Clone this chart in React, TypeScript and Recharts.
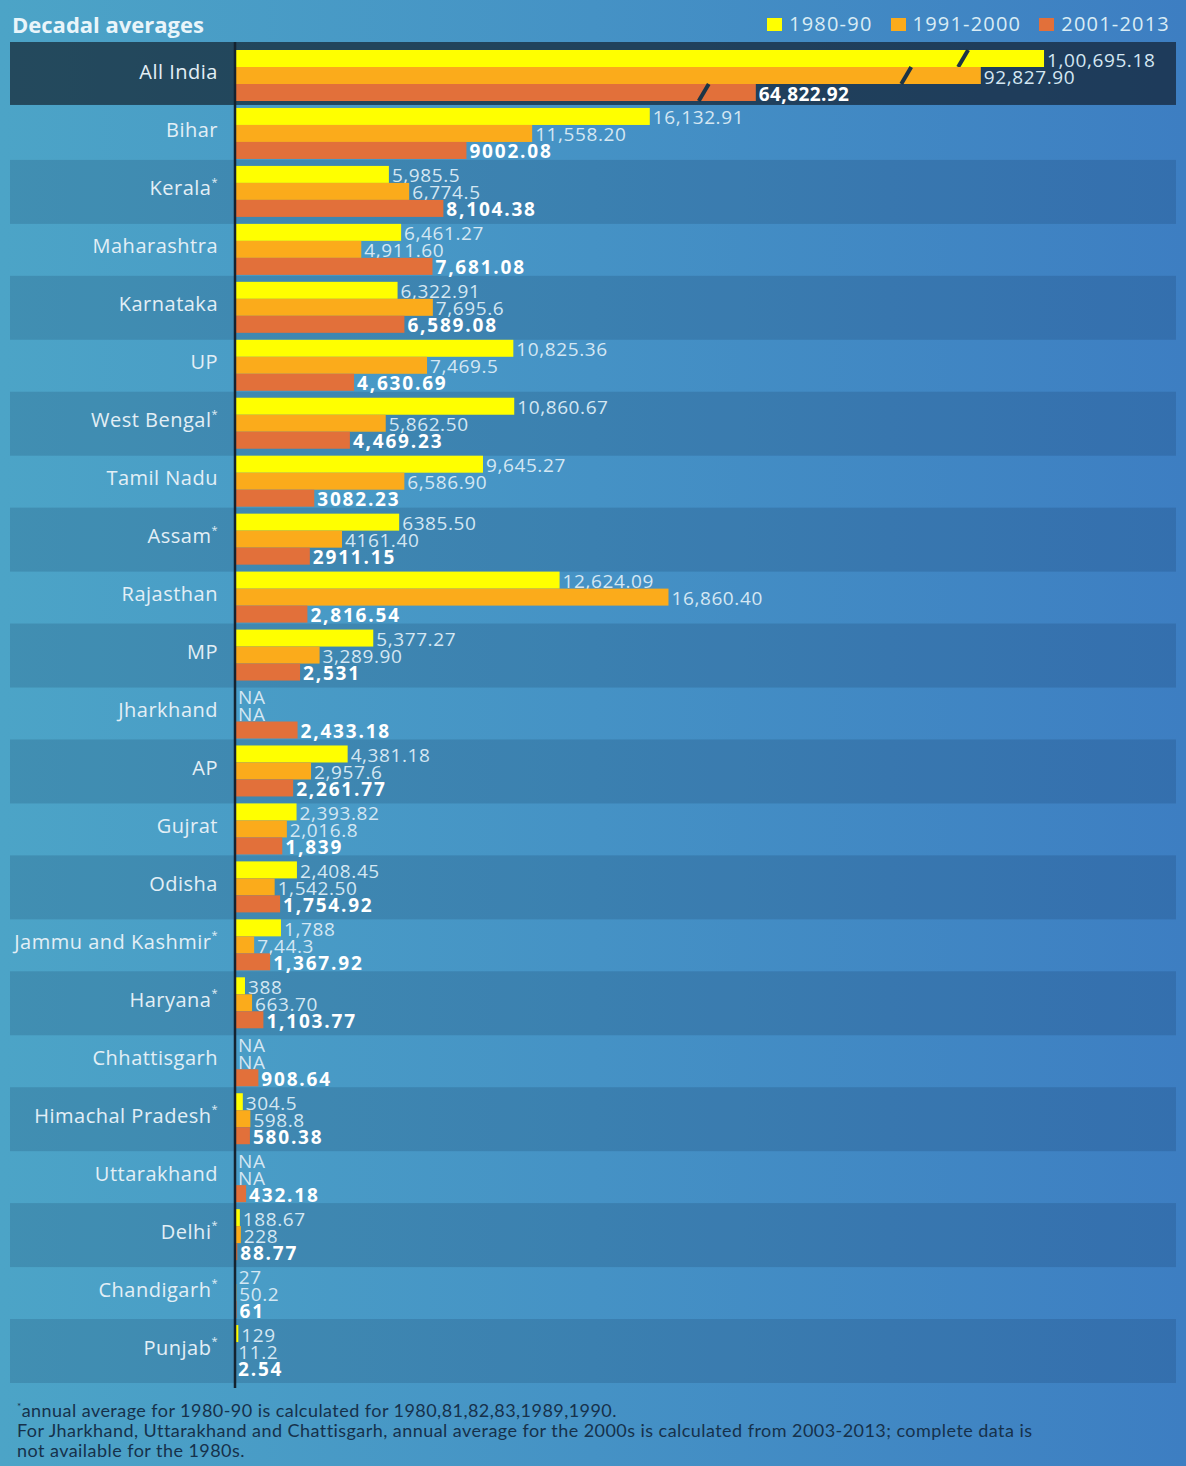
import { Bar, BarChart, ReferenceArea, XAxis, YAxis } from "recharts";

const categories = [
  "All India", "Bihar", "Kerala*", "Maharashtra", "Karnataka", "UP", "West Bengal*",
  "Tamil Nadu", "Assam*", "Rajasthan", "MP", "Jharkhand", "AP", "Gujrat", "Odisha",
  "Jammu and Kashmir*", "Haryana*", "Chhattisgarh", "Himachal Pradesh*", "Uttarakhand",
  "Delhi*", "Chandigarh*", "Punjab*",
];

const avg1980 = [
  100695.18, 16132.91, 5985.5, 6461.27, 6322.91, 10825.36, 10860.67, 9645.27, 6385.5,
  12624.09, 5377.27, null, 4381.18, 2393.82, 2408.45, 1788, 388, null, 304.5, null,
  188.67, 27, 129,
];
const avg1991 = [
  92827.9, 11558.2, 6774.5, 4911.6, 7695.6, 7469.5, 5862.5, 6586.9, 4161.4, 16860.4,
  3289.9, null, 2957.6, 2016.8, 1542.5, 744.3, 663.7, null, 598.8, null, 228, 50.2, 11.2,
];
const avg2001 = [
  64822.92, 9002.08, 8104.38, 7681.08, 6589.08, 4630.69, 4469.23, 3082.23, 2911.15,
  2816.54, 2531, 2433.18, 2261.77, 1839, 1754.92, 1367.92, 1103.77, 908.64, 580.38,
  432.18, 88.77, 61, 2.54,
];

// printed labels, kept as they appear in the original
const label1980 = [
  "1,00,695.18", "16,132.91", "5,985.5", "6,461.27", "6,322.91", "10,825.36", "10,860.67",
  "9,645.27", "6385.50", "12,624.09", "5,377.27", "NA", "4,381.18", "2,393.82", "2,408.45",
  "1,788", "388", "NA", "304.5", "NA", "188.67", "27", "129",
];
const label1991 = [
  "92,827.90", "11,558.20", "6,774.5", "4,911.60", "7,695.6", "7,469.5", "5,862.50",
  "6,586.90", "4161.40", "16,860.40", "3,289.90", "NA", "2,957.6", "2,016.8", "1,542.50",
  "7,44.3", "663.70", "NA", "598.8", "NA", "228", "50.2", "11.2",
];
const label2001 = [
  "64,822.92", "9002.08", "8,104.38", "7,681.08", "6,589.08", "4,630.69", "4,469.23",
  "3082.23", "2911.15", "2,816.54", "2,531", "2,433.18", "2,261.77", "1,839", "1,754.92",
  "1,367.92", "1,103.77", "908.64", "580.38", "432.18", "88.77", "61", "2.54",
];

// All India is drawn on a broken axis, at 5/16 of the state scale
const ALL_INDIA_SCALE = 0.3125;

const series = [
  { key: "y1980", labelKey: "l1980", name: "1980-90", color: "#ffff00", bold: false },
  { key: "y1991", labelKey: "l1991", name: "1991-2000", color: "#fbab1b", bold: false },
  { key: "y2001", labelKey: "l2001", name: "2001-2013", color: "#e2703a", bold: true },
];

const chartData = categories.map((name, i) => {
  const k = i === 0 ? ALL_INDIA_SCALE : 1;
  return {
    name,
    broken: i === 0,
    y1980: (avg1980[i] ?? 0) * k,
    y1991: (avg1991[i] ?? 0) * k,
    y2001: (avg2001[i] ?? 0) * k,
    l1980: label1980[i],
    l1991: label1991[i],
    l2001: label2001[i],
  };
});

const YAXIS_WIDTH = 235;
const PAGE_PAD = 10;
const FONT = "'Open Sans', 'DejaVu Sans', sans-serif";

function barShape(labelKey: string, bold: boolean) {
  return (props: any) => {
    const { x, y, width, height, fill, payload } = props;
    const w = Math.max(0, width || 0);
    const breakX = x + w * 0.9;
    return (
      <g>
        {w > 0 && <rect x={x} y={y} width={w} height={height} fill={fill} />}
        {payload.broken && (
          <line
            x1={breakX + 5}
            y1={y}
            x2={breakX - 5}
            y2={y + height}
            stroke="#1c3446"
            strokeWidth={4}
          />
        )}
        <text
          x={x + w + 3}
          y={y + height / 2 + 1}
          dominantBaseline="central"
          fill={bold ? "#ffffff" : "#d4e7f3"}
          fontFamily={FONT}
          fontSize={19}
          fontWeight={bold ? 700 : 400}
          letterSpacing={bold ? (payload.broken ? 0.4 : 1.8) : 0.6}
        >
          {payload[labelKey]}
        </text>
      </g>
    );
  };
}

function bandShape(kind: "top" | "dark") {
  return (props: any) => {
    const { x, y, width, height } = props;
    const extra = YAXIS_WIDTH - PAGE_PAD;
    if (kind === "top") {
      return (
        <rect x={x - extra} y={y - 5} width={width + extra} height={height + 5} fill="rgba(12,18,28,0.62)" />
      );
    }
    return (
      <rect x={x - extra} y={y - 3} width={width + extra} height={height + 6} fill="rgba(10,30,60,0.15)" />
    );
  };
}

const CategoryTick = (props: any) => {
  const { x, y, payload } = props;
  const raw = String(payload.value);
  const star = raw.endsWith("*");
  const name = star ? raw.slice(0, -1) : raw;
  return (
    <text
      x={x}
      y={y - 4}
      textAnchor="end"
      dominantBaseline="central"
      fill="#e3eff6"
      fontFamily={FONT}
      fontSize={20}
      letterSpacing={0.5}
    >
      {name}
      {star && (
        <tspan fontSize={11} dy={-7}>
          *
        </tspan>
      )}
    </text>
  );
};

export default function App() {
  return (
    <div
      style={{
        position: "absolute",
        left: 0,
        top: 0,
        width: 1186,
        height: 1466,
        overflow: "hidden",
        background: "linear-gradient(90deg, #4ca4c7 0%, #4592c5 50%, #3d7ec2 100%)",
      }}
    >
      <div
        style={{
          position: "absolute",
          left: 12,
          top: 9,
          fontFamily: FONT,
          fontWeight: 700,
          fontSize: 22,
          color: "#e9f5fa",
          lineHeight: "30px",
        }}
      >
        Decadal averages
      </div>

      <div
        style={{
          position: "absolute",
          right: 16,
          top: 9,
          display: "flex",
          gap: 18,
          alignItems: "center",
          fontFamily: FONT,
          fontSize: 20,
          lineHeight: "30px",
          letterSpacing: 1.2,
          color: "#d9ecf5",
        }}
      >
        {series.map((s) => (
          <div key={s.key} style={{ display: "flex", alignItems: "center" }}>
            <span style={{ width: 15, height: 13, background: s.color, marginRight: 7, display: "inline-block" }} />
            {s.name}
          </div>
        ))}
      </div>

      <BarChart
        width={1186}
        height={1400}
        data={chartData}
        layout="vertical"
        margin={{ top: 42, right: PAGE_PAD, left: 0, bottom: 12 }}
        barCategoryGap={3}
        barGap={0}
      >
        {categories.map((c, i) =>
          i === 0 ? (
            <ReferenceArea key={c} y1={c} y2={c} ifOverflow="visible" shape={bandShape("top")} />
          ) : i % 2 === 0 ? (
            <ReferenceArea key={c} y1={c} y2={c} ifOverflow="visible" shape={bandShape("dark")} />
          ) : null
        )}
        <XAxis type="number" domain={[0, 36600]} hide />
        <YAxis
          type="category"
          dataKey="name"
          width={YAXIS_WIDTH}
          padding={{ top: 5, bottom: 8 }}
          tickLine={false}
          tickSize={0}
          tickMargin={17}
          interval={0}
          axisLine={{ stroke: "#142330", strokeWidth: 2.5 }}
          tick={<CategoryTick />}
        />
        {series.map((s) => (
          <Bar
            key={s.key}
            dataKey={s.key}
            name={s.name}
            fill={s.color}
            isAnimationActive={false}
            shape={barShape(s.labelKey, s.bold)}
          />
        ))}
      </BarChart>

      <div
        style={{
          position: "absolute",
          left: 17,
          top: 1396,
          fontFamily: "Lato, 'Open Sans', sans-serif",
          fontSize: 18,
          letterSpacing: 0.45,
          lineHeight: "20px",
          color: "#16314b",
        }}
      >
        <div>
          <sup style={{ fontSize: 10 }}>*</sup>annual average for 1980-90 is calculated for 1980,81,82,83,1989,1990.
        </div>
        <div>
          For Jharkhand, Uttarakhand and Chattisgarh, annual average for the 2000s is calculated from 2003-2013; complete data is
        </div>
        <div>not available for the 1980s.</div>
      </div>
    </div>
  );
}
